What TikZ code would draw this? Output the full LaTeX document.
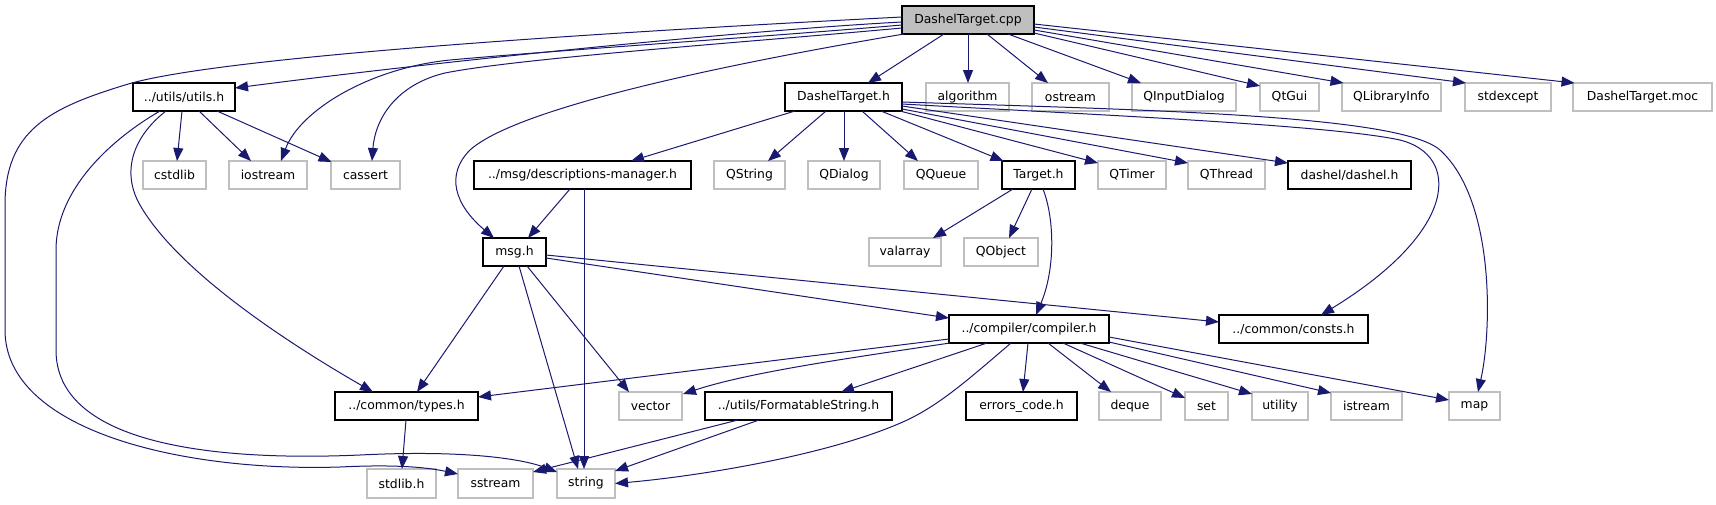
\documentclass[tikz,border=0pt]{standalone}
\usepackage{fontspec}
\setmainfont{DejaVu Sans}
\usetikzlibrary{arrows.meta,calc}
\definecolor{edgeblue}{HTML}{191970}
\definecolor{boxgray}{HTML}{BFBFBF}
\begin{document}
\begin{tikzpicture}[x=1pt,y=-1pt,
  box/.style={draw=black, line width=1.1pt, fill=white, minimum height=28pt, inner sep=0pt,
    font=\fontsize{12.4}{14}\selectfont},
  gbox/.style={box, draw=boxgray, line width=1.1pt},
  main/.style={box, fill=boxgray},
  dep/.style={draw=edgeblue, line width=1pt, -{Triangle[length=13pt,width=10pt]}}]
\useasboundingbox (0,0) rectangle (1716,504);
% row 0
\node[main, minimum width=132pt] (cpp) at (968,20) {DashelTarget.cpp};
% row 1
\node[box, minimum width=102pt] (utils) at (184,97) {../utils/utils.h};
\node[box, minimum width=117pt] (dth) at (843.5,97) {DashelTarget.h};
\node[gbox, minimum width=83pt] (algorithm) at (967.5,97) {algorithm};
\node[gbox, minimum width=77pt] (ostream) at (1070.5,97) {ostream};
\node[gbox, minimum width=104pt] (qinput) at (1184,97) {QInputDialog};
\node[gbox, minimum width=59pt] (qtgui) at (1289.5,97) {QtGui};
\node[gbox, minimum width=99pt] (qlib) at (1391.5,97) {QLibraryInfo};
\node[gbox, minimum width=86pt] (stdexcept) at (1508,97) {stdexcept};
\node[gbox, minimum width=139pt] (moc) at (1642.5,97) {DashelTarget.moc};
% row 2
\node[gbox, minimum width=63pt] (cstdlib) at (174.5,175) {cstdlib};
\node[gbox, minimum width=78pt] (iostream) at (268,175) {iostream};
\node[gbox, minimum width=69pt] (cassert) at (365.5,175) {cassert};
\node[box, minimum width=217pt] (descm) at (582.5,175) {../msg/descriptions-manager.h};
\node[gbox, minimum width=71pt] (qstring) at (749.5,175) {QString};
\node[gbox, minimum width=72pt] (qdialog) at (844,175) {QDialog};
\node[gbox, minimum width=74pt] (qqueue) at (941,175) {QQueue};
\node[box, minimum width=73pt] (target) at (1038.5,175) {Target.h};
\node[gbox, minimum width=68pt] (qtimer) at (1132,175) {QTimer};
\node[gbox, minimum width=77pt] (qthread) at (1226.5,175) {QThread};
\node[box, minimum width=123pt] (dashel) at (1349.5,175) {dashel/dashel.h};
% row 3
\node[box, minimum width=63pt] (msg) at (514.5,252) {msg.h};
\node[gbox, minimum width=72pt] (valarray) at (905,252) {valarray};
\node[gbox, minimum width=74pt] (qobject) at (1001,252) {QObject};
% row 4
\node[box, minimum width=160pt] (compiler) at (1029,329) {../compiler/compiler.h};
\node[box, minimum width=149pt] (consts) at (1293.5,329) {../common/consts.h};
% row 5
\node[box, minimum width=143pt] (types) at (406.5,406) {../common/types.h};
\node[gbox, minimum width=63pt] (vector) at (650.5,406) {vector};
\node[box, minimum width=187pt] (fstring) at (798.5,406) {../utils/FormatableString.h};
\node[box, minimum width=111pt] (errors) at (1021.5,406) {errors\_code.h};
\node[gbox, minimum width=62pt] (deque) at (1130,406) {deque};
\node[gbox, minimum width=43pt] (set) at (1206.5,406) {set};
\node[gbox, minimum width=56pt] (utility) at (1280,406) {utility};
\node[gbox, minimum width=71pt] (istream) at (1366.5,406) {istream};
\node[gbox, minimum width=51pt] (map) at (1474.5,406) {map};
% row 6
\node[gbox, minimum width=69pt, minimum height=29pt] (stdlib) at (401.5,483.5) {stdlib.h};
\node[gbox, minimum width=75pt, minimum height=29pt] (sstream) at (495.5,483.5) {sstream};
\node[gbox, minimum width=58pt, minimum height=29pt] (string) at (586,483.5) {string};

% edges from DashelTarget.cpp
\draw[dep] ($(cpp)+(-66,2)$) .. controls (750,30) and (450,60) .. ($(utils)+(51,-9)$);
\draw[dep] ($(cpp)+(-66,-3)$) .. controls (650,30) and (220,55) .. (125,85)
  .. controls (50,108) and (5,130) .. (5,205) -- (5,330)
  .. controls (5,430) and (180,472) .. (340,467)
  .. controls (400,464) and (430,468) .. ($(sstream)+(-37.5,-9.5)$);
\draw[dep] ($(cpp)+(-66,5)$) .. controls (750,38) and (560,50) .. (450,60)
  .. controls (370,68) and (300,110) .. ($(iostream)+(13,-14)$);
\draw[dep] ($(cpp)+(-66,8)$) .. controls (750,42) and (520,58) .. (445,73)
  .. controls (395,85) and (375,120) .. ($(cassert)+(6.5,-14)$);
\draw[dep] ($(cpp)+(-64,14)$) .. controls (750,60) and (520,105) .. (470,150)
  .. controls (445,175) and (455,205) .. ($(msg)+(-20.5,-14)$);
\draw[dep] ($(cpp)+(-24,14)$) -- ($(dth)+(24.5,-14)$);
\draw[dep] ($(cpp)+(0,14)$) -- ($(algorithm)+(0.5,-14)$);
\draw[dep] ($(cpp)+(19,14)$) -- ($(ostream)+(-22.5,-14)$);
\draw[dep] ($(cpp)+(40,14)$) -- ($(qinput)+(-43,-14)$);
\draw[dep] ($(cpp)+(66,13)$) -- ($(qtgui)+(-29.5,-11)$);
\draw[dep] ($(cpp)+(66,10)$) -- ($(qlib)+(-48,-14)$);
\draw[dep] ($(cpp)+(66,7)$) -- ($(stdexcept)+(-42,-14)$);
\draw[dep] ($(cpp)+(66,4)$) -- ($(moc)+(-68,-14)$);

% edges from DashelTarget.h
\draw[dep] ($(dth)+(-48.5,14)$) -- ($(descm)+(48.5,-14)$);
\draw[dep] ($(dth)+(-17.5,14)$) -- ($(qstring)+(18.5,-14)$);
\draw[dep] ($(dth)+(0.5,14)$) -- ($(qdialog)+(0,-14)$);
\draw[dep] ($(dth)+(18.5,14)$) -- ($(qqueue)+(-23,-14)$);
\draw[dep] ($(dth)+(37.5,14)$) -- ($(target)+(-35,-14)$);
\draw[dep] ($(dth)+(56.5,14)$) -- ($(qtimer)+(-34,-12)$);
\draw[dep] ($(dth)+(58.5,12)$) -- ($(qthread)+(-38.5,-12)$);
\draw[dep] ($(dth)+(58.5,9)$) -- ($(dashel)+(-61.5,-12)$);
\draw[dep] ($(dth)+(58.5,7)$) .. controls (1100,115) and (1330,125) .. (1400,140)
  .. controls (1460,155) and (1460,230) .. ($(consts)+(27.5,-14)$);
\draw[dep] ($(dth)+(58.5,5)$) .. controls (1150,110) and (1400,115) .. (1440,150)
  .. controls (1495,200) and (1492,330) .. ($(map)+(3.5,-14)$);

% edges from Target.h
\draw[dep] ($(target)+(-25.5,14)$) -- ($(valarray)+(28,-14)$);
\draw[dep] ($(target)+(-6.5,14)$) -- ($(qobject)+(8,-14)$);
\draw[dep] ($(target)+(4.5,14)$) .. controls (1055,220) and (1055,270) .. ($(compiler)+(7,-14)$);

% edges from descriptions-manager.h
\draw[dep] ($(descm)+(-12.5,14)$) -- ($(msg)+(13.5,-14)$);
\draw[dep] ($(descm)+(1.5,14)$) -- ($(string)+(-2,-14.5)$);

% edges from msg.h
\draw[dep] ($(msg)+(-10.5,14)$) -- ($(types)+(10.5,-14)$);
\draw[dep] ($(msg)+(4.5,14)$) -- ($(string)+(-8,-14.5)$);
\draw[dep] ($(msg)+(12.5,14)$) -- ($(vector)+(-21.5,-14)$);
\draw[dep] ($(msg)+(31.5,6)$) -- ($(compiler)+(-80,-11)$);
\draw[dep] ($(msg)+(31.5,3)$) -- ($(consts)+(-74.5,-7)$);

% edges from compiler.h
\draw[dep] ($(compiler)+(-80,10)$) -- ($(types)+(71.5,-9)$);
\draw[dep] ($(compiler)+(-79,14)$) .. controls (850,358) and (750,372) .. ($(vector)+(32.5,-12)$);
\draw[dep] ($(compiler)+(-42,14)$) -- ($(fstring)+(42.5,-14)$);
\draw[dep] ($(compiler)+(-18,14)$) .. controls (970,378) and (940,405) .. (905,421)
  .. controls (830,455) and (700,476) .. ($(string)+(29,0)$);
\draw[dep] ($(compiler)+(-1,14)$) -- ($(errors)+(1.5,-14)$);
\draw[dep] ($(compiler)+(19,14)$) -- ($(deque)+(-19,-14)$);
\draw[dep] ($(compiler)+(34,14)$) -- ($(set)+(-21.5,-8)$);
\draw[dep] ($(compiler)+(51,14)$) -- ($(utility)+(-28,-12)$);
\draw[dep] ($(compiler)+(80,13)$) -- ($(istream)+(-35.5,-13)$);
\draw[dep] ($(compiler)+(80,8)$) -- ($(map)+(-25.5,-6)$);

% edges from FormatableString.h
\draw[dep] ($(fstring)+(-60.5,14)$) -- ($(sstream)+(37.5,-11.5)$);
\draw[dep] ($(fstring)+(-39.5,14)$) -- ($(string)+(29,-12.5)$);

% types.h
\draw[dep] ($(types)+(-0.5,14)$) -- ($(stdlib)+(0.5,-14.5)$);

% edges from utils.h
\draw[dep] ($(utils)+(-2,14)$) -- ($(cstdlib)+(2.5,-14)$);
\draw[dep] ($(utils)+(15,14)$) -- ($(iostream)+(-17,-14)$);
\draw[dep] ($(utils)+(33,14)$) -- ($(cassert)+(-34,-13)$);
\draw[dep] ($(utils)+(-24,14)$) .. controls (110,140) and (56,190) .. (56,250) -- (56,350)
  .. controls (56,440) and (200,462) .. (360,455)
  .. controls (460,450) and (520,458) .. ($(string)+(-29,-11.5)$);
\draw[dep] ($(utils)+(-18,14)$) .. controls (135,135) and (120,170) .. (140,205)
  .. controls (180,275) and (300,350) .. ($(types)+(-33.5,-14)$);
\end{tikzpicture}
\end{document}
